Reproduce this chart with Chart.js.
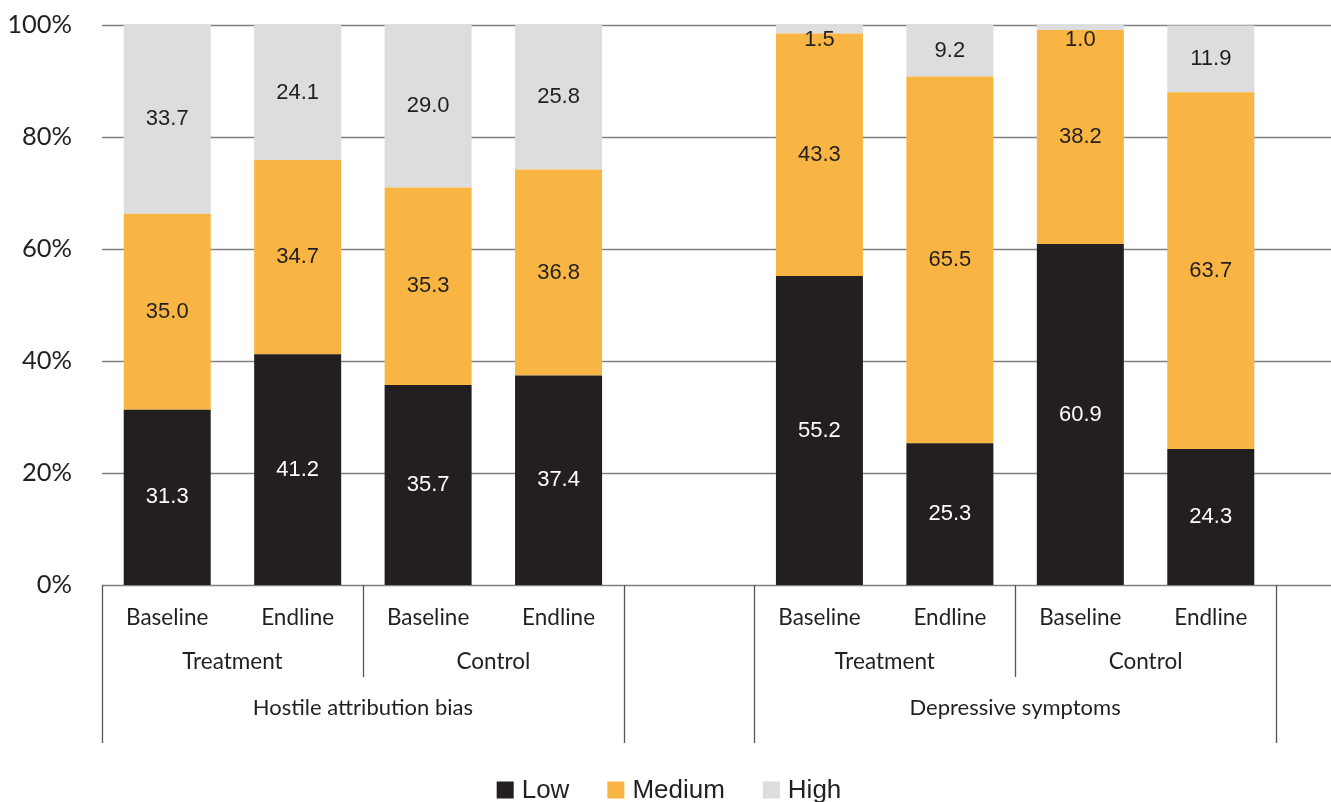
<!DOCTYPE html>
<html>
<head>
<meta charset="utf-8">
<script src="https://cdn.jsdelivr.net/npm/chart.js@4"></script>
<style>
  html, body { margin: 0; padding: 0; background: #fff; }
  #wrap { width: 1331px; height: 802px; position: relative; }
</style>
</head>
<body>
<div id="wrap"><canvas id="chart"></canvas></div>
<script>
// one slot per bar, the empty slot (index 4) is the gap between the two outcomes
const timepoints = ['Baseline', 'Endline', 'Baseline', 'Endline', '', 'Baseline', 'Endline', 'Baseline', 'Endline'];
const arms = [
  { label: 'Treatment', from: 0, to: 1 },
  { label: 'Control', from: 2, to: 3 },
  { label: 'Treatment', from: 5, to: 6 },
  { label: 'Control', from: 7, to: 8 },
];
const outcomes = [
  { label: 'Hostile attribution bias', from: 0, to: 3 },
  { label: 'Depressive symptoms', from: 5, to: 8 },
];

const lowValues = [31.3, 41.2, 35.7, 37.4, null, 55.2, 25.3, 60.9, 24.3];
const mediumValues = [35.0, 34.7, 35.3, 36.8, null, 43.3, 65.5, 38.2, 63.7];
const highValues = [33.7, 24.1, 29.0, 25.8, null, 1.5, 9.2, 1.0, 11.9];

const yTicks = [0, 20, 40, 60, 80, 100];

const dark = '#231f20';
const axisFont = 'Lato, "Liberation Sans", sans-serif';
const labelFont = '"Liberation Sans", Arial, sans-serif';
const PLOT_BOTTOM = 585;

// grid lines run past the last bar to the right edge
const gridPlugin = {
  id: 'grid',
  beforeDatasetsDraw(chart) {
    const { ctx, chartArea, scales } = chart;
    ctx.save();
    ctx.strokeStyle = '#808080';
    ctx.lineWidth = 1.5;
    yTicks.forEach((t) => {
      const y = Math.round(scales.y.getPixelForValue(t)) + 0.5;
      ctx.beginPath();
      ctx.moveTo(chartArea.left, y);
      ctx.lineTo(chart.width, y);
      ctx.stroke();
    });
    ctx.restore();
  },
};

// value inside each segment
const valueLabels = {
  id: 'valueLabels',
  afterDatasetsDraw(chart) {
    const { ctx, chartArea } = chart;
    ctx.save();
    ctx.font = '22px ' + labelFont;
    ctx.textAlign = 'center';
    ctx.textBaseline = 'middle';
    chart.data.datasets.forEach((ds, i) => {
      const meta = chart.getDatasetMeta(i);
      meta.data.forEach((bar, j) => {
        const v = ds.data[j];
        if (v == null) return;
        let y = (bar.y + bar.base) / 2;
        y = Math.max(y, chartArea.top + 15);
        ctx.fillStyle = i === 0 ? '#ffffff' : dark;
        ctx.fillText(v.toFixed(1), bar.x, y);
      });
    });
    ctx.restore();
  },
};

// arm and outcome rows under the timepoint labels, with the separators
const groupAxis = {
  id: 'groupAxis',
  afterDraw(chart) {
    const { ctx, scales } = chart;
    const x = scales.x;
    const slot = x.getPixelForValue(1) - x.getPixelForValue(0);
    const left = (i) => x.getPixelForValue(i) - slot / 2;
    const right = (i) => x.getPixelForValue(i) + slot / 2;
    const top = PLOT_BOTTOM;
    ctx.save();
    ctx.strokeStyle = '#555';
    ctx.lineWidth = 1.3;
    const vline = (px, bottom) => {
      const xx = Math.round(px) + 0.5;
      ctx.beginPath();
      ctx.moveTo(xx, top);
      ctx.lineTo(xx, bottom);
      ctx.stroke();
    };
    outcomes.forEach((g) => {
      vline(left(g.from), 743);
      vline(right(g.to), 743);
    });
    arms.forEach((a, k) => {
      if (k % 2 === 0) vline(right(a.to), 677);
    });

    ctx.fillStyle = dark;
    ctx.font = '22.5px ' + axisFont;
    ctx.textAlign = 'center';
    ctx.textBaseline = 'middle';
    arms.forEach((a) => {
      ctx.fillText(a.label, (x.getPixelForValue(a.from) + x.getPixelForValue(a.to)) / 2, 662);
    });
    ctx.font = '22px ' + axisFont;
    outcomes.forEach((g) => {
      ctx.fillText(g.label, (x.getPixelForValue(g.from) + x.getPixelForValue(g.to)) / 2, 708);
    });
    ctx.restore();
  },
};

// legend row at the bottom, built from the datasets
const bottomLegend = {
  id: 'bottomLegend',
  afterDraw(chart) {
    const { ctx } = chart;
    const box = 17, gapText = 8, gapItem = 38, cy = 790, centerX = 669;
    ctx.save();
    ctx.font = '26px ' + labelFont;
    ctx.textBaseline = 'middle';
    ctx.textAlign = 'left';
    const items = chart.data.datasets.map((ds) => ({
      label: ds.label, color: ds.backgroundColor, w: ctx.measureText(ds.label).width,
    }));
    const total = items.reduce((s, it) => s + box + gapText + it.w, 0) + gapItem * (items.length - 1);
    let x = centerX - total / 2;
    items.forEach((it) => {
      ctx.fillStyle = it.color;
      ctx.fillRect(x, cy - box / 2, box, box);
      ctx.fillStyle = dark;
      ctx.fillText(it.label, x + box + gapText, cy + 1);
      x += box + gapText + it.w + gapItem;
    });
    ctx.restore();
  },
};

const ctx = document.getElementById('chart');
new Chart(ctx, {
  type: 'bar',
  data: {
    labels: timepoints,
    datasets: [
      { label: 'Low', data: lowValues, backgroundColor: dark },
      { label: 'Medium', data: mediumValues, backgroundColor: '#f9b544' },
      { label: 'High', data: highValues, backgroundColor: '#dcdddf' },
    ],
  },
  options: {
    responsive: true,
    maintainAspectRatio: false,
    animation: false,
    layout: { padding: { top: 25, right: 55, left: 0, bottom: 0 } },
    datasets: {
      bar: { barPercentage: 0.667, categoryPercentage: 1, borderWidth: 0 },
    },
    plugins: {
      tooltip: { enabled: false },
      legend: { display: false },
    },
    scales: {
      x: {
        stacked: true,
        grid: { display: false, drawTicks: false },
        border: { display: false },
        ticks: {
          color: dark,
          font: { family: axisFont, size: 22.5 },
          padding: 19,
          maxRotation: 0,
          autoSkip: false,
        },
        afterFit(scale) {
          scale.height = scale.chart.height - PLOT_BOTTOM;
          scale.paddingLeft = 0;
          scale.paddingRight = 0;
        },
      },
      y: {
        stacked: true,
        min: 0,
        max: 100,
        grid: { display: false, drawTicks: false },
        border: { display: false },
        ticks: {
          stepSize: 20,
          padding: 30,
          color: dark,
          font: { family: axisFont, size: 25.5 },
          callback: (v) => v + '%',
        },
        afterFit(scale) {
          scale.width = 102;
          scale.paddingTop = 0;
          scale.paddingBottom = 0;
        },
      },
    },
  },
  plugins: [gridPlugin, valueLabels, groupAxis, bottomLegend],
});
</script>
</body>
</html>
